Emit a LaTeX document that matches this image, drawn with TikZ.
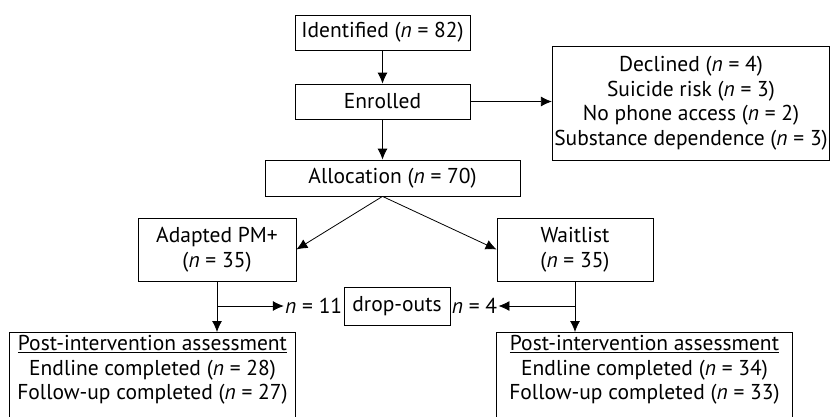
\documentclass[tikz,border=0pt]{standalone}
\usepackage{fontspec}
\setmainfont{PT Sans}
\usetikzlibrary{arrows.meta}
\begin{document}
\begin{tikzpicture}[x=1pt,y=-1pt,>={Latex[length=11pt,width=10pt]},
  font=\fontsize{21.5}{24.5}\selectfont,line width=0.8pt,
  box/.style={draw,align=center,inner sep=2pt},
  lab/.style={inner sep=1pt}]
\useasboundingbox (0,0) rectangle (832,416);
\clip (0,0) rectangle (832,416);
\node[box,minimum width=175pt,minimum height=35pt] (ident) at (382.5,32.5) {Identified (\textit{n} = 82)};
\node[box,minimum width=175pt,minimum height=35pt] (enrol) at (382.5,101.5) {Enrolled};
\node[box,minimum width=276pt,minimum height=114pt] (excl) at (691,103) {Declined (\textit{n} = 4)\\Suicide risk (\textit{n} = 3)\\No phone access (\textit{n} = 2)\\Substance dependence (\textit{n} = 3)};
\node[box,minimum width=255pt,minimum height=36pt] (alloc) at (392.5,178) {Allocation (\textit{n} = 70)};
\node[box,minimum width=158pt,minimum height=63pt] (pm) at (217,249.5) {Adapted PM+\\(\textit{n} = 35)};
\node[box,minimum width=156pt,minimum height=63pt] (wait) at (575,249.5) {Waitlist\\(\textit{n} = 35)};
\node[box,minimum width=106pt,minimum height=38pt] (drop) at (397,306) {drop-outs};
\node[lab,anchor=east] (dropa) at (drop.west) {\textit{n} = 11};
\node[lab,anchor=west] (dropb) at (drop.east) {\textit{n} = 4};
% post-intervention boxes run off the bottom
\node[align=center,inner sep=3pt,minimum width=285pt,anchor=north] (posta) at (152.5,332) {\underline{Post-intervention assessment}\\Endline completed (\textit{n} = 28)\\Follow-up completed (\textit{n} = 27)};
\node[align=center,inner sep=3pt,minimum width=295pt,anchor=north] (postb) at (644.5,332) {\underline{Post-intervention assessment}\\Endline completed (\textit{n} = 34)\\Follow-up completed (\textit{n} = 33)};
\draw (posta.north west) rectangle ([yshift=-20pt]posta.south east);
\draw (postb.north west) rectangle ([yshift=-20pt]postb.south east);
\draw[->] (ident) -- (enrol);
\draw[->] (enrol) -- (excl.west |- enrol);
\draw[->] (enrol) -- (enrol.south |- alloc.north);
\coordinate (split) at (enrol.south |- alloc.south);
\draw[->] (split) -- (pm.east);
\draw[->] (split) -- (wait.west);
\draw[->] (pm) -- (pm.south |- posta.north);
\draw[->] (wait) -- (wait.south |- postb.north);
\draw[->] (pm.south |- drop) -- (dropa);
\draw[->] (wait.south |- drop) -- (dropb);
\end{tikzpicture}
\end{document}
